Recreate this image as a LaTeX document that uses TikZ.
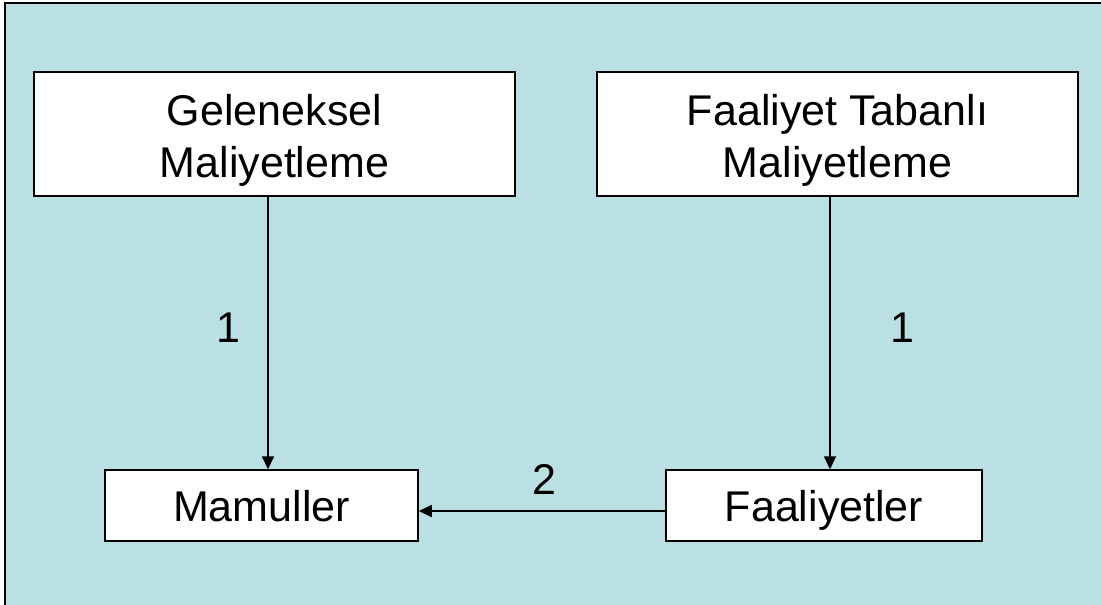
\documentclass[tikz,border=0pt]{standalone}
\usepackage{fontspec}
\setmainfont{Liberation Sans}
\usetikzlibrary{arrows.meta}
\definecolor{bgteal}{HTML}{BBE0E3}
\begin{document}
\begin{tikzpicture}[x=1pt,y=-1pt,
  box/.style={draw=black,line width=1.5pt,fill=white,inner sep=0pt,
    align=center,font=\fontsize{43}{52}\selectfont},
  twobox/.style={box,text height=96pt,text depth=10pt},
  onebox/.style={box,text height=40pt,text depth=9pt},
  flow/.style={draw=black,line width=1.7pt,-{Triangle[length=13pt,width=12pt]}},
  lbl/.style={font=\fontsize{43}{52}\selectfont,inner sep=0pt}]
\useasboundingbox (0,0) rectangle (1101,605);
% slide background
\fill[bgteal,draw=black,line width=2pt] (5,3) rectangle (1110,615);
% boxes
\node[twobox,minimum width=481pt,minimum height=124pt] (gel) at (274.5,134) {Geleneksel\\Maliyetleme};
\node[twobox,minimum width=481pt,minimum height=124pt] (fab) at (837.5,134) {Faaliyet Tabanlı\\Maliyetleme};
\node[onebox,minimum width=313pt,minimum height=71pt] (mam) at (261.5,505.5) {Mamuller};
\node[onebox,minimum width=316pt,minimum height=71pt] (faa) at (824,505.5) {Faaliyetler};
% arrow lanes
\coordinate (lx) at (268,0);
\coordinate (rx) at (830,0);
\coordinate (hy) at (0,511);
\draw[flow] (lx |- gel.south) -- (lx |- mam.north);
\draw[flow] (rx |- fab.south) -- (rx |- faa.north);
\draw[flow] (faa.west |- hy) -- (mam.east |- hy);
% labels
\node[lbl] (l1) at (228,328) {1};
\node[lbl] (l2) at (902,328) {1};
\node[lbl] (l3) at (544,479) {2};
\end{tikzpicture}
\end{document}
